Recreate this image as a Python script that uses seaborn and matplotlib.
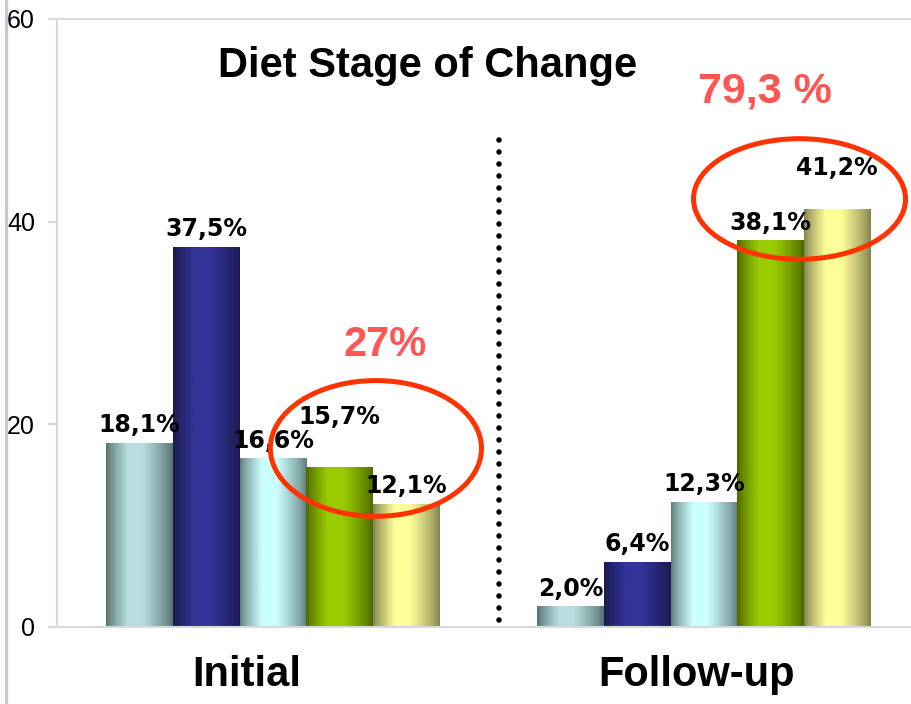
import numpy as np
import pandas as pd
import matplotlib
matplotlib.use("Agg")
import matplotlib.pyplot as plt
import matplotlib.transforms as mtransforms
from matplotlib.patches import Ellipse
from matplotlib.lines import Line2D
from matplotlib.colors import to_rgb
import seaborn as sns

# ---- data -------------------------------------------------------------
groups = ["Initial", "Follow-up"]
stages = ["Precontemplation", "Contemplation", "Preparation", "Action", "Maintenance"]
initial_pct = [18.1, 37.5, 16.6, 15.7, 12.1]
followup_pct = [2.0, 6.4, 12.3, 38.1, 41.2]
highlight_totals = ["27%", "79,3 %"]
y_ticks = [0, 20, 40, 60]

# ---- styling ----------------------------------------------------------
face_colors = ["#b8dfe0", "#333399", "#ccffff", "#99cc00", "#ffff99"]
shade_colors = ["#566e6e", "#1a1a4d", "#5e7a7a", "#4d6600", "#80804d"]
grey = "#d9d9d9"

df = pd.DataFrame({
    "group": np.repeat(groups, len(stages)),
    "stage": stages * len(groups),
    "pct": initial_pct + followup_pct,
})

sns.set_theme(style="white")
plt.rcParams["font.family"] = ["Liberation Sans", "DejaVu Sans"]

fig = plt.figure(figsize=(9.12, 7.04), dpi=100)
ax = fig.add_axes([57 / 912, 77 / 704, 1 - 57 / 912, 608 / 704])

sns.barplot(data=df, x="group", y="pct", hue="stage", order=groups,
            hue_order=stages, palette=face_colors, width=0.773, gap=0,
            saturation=1, legend=False, errorbar=None, linewidth=0, ax=ax)

# cylinder-like horizontal shading on every bar
t = np.linspace(0, 1, 200)
mix = np.interp(t, [0, 0.33, 0.55, 1], [0, 1, 1, 0]) ** 0.8

# extra lift (points) for labels that sit higher above their bar
label_lift = {("Initial", "Action"): 31.7, ("Follow-up", "Maintenance"): 24.5}

for si, cont in enumerate(ax.containers):
    light = np.array(to_rgb(face_colors[si]))
    dark = np.array(to_rgb(shade_colors[si]))
    grad = dark[None, :] * (1 - mix[:, None]) + light[None, :] * mix[:, None]
    for gi, bar in enumerate(cont):
        x0 = bar.get_x()
        w = bar.get_width()
        h = bar.get_height()
        ax.imshow(grad[None, :, :], extent=[x0, x0 + w, 0, h], aspect="auto",
                  interpolation="bilinear", zorder=bar.get_zorder() + 0.1)
        txt = f"{h:.1f}".replace(".", ",") + "%"
        ax.annotate(txt, (x0 + w / 2, h),
                    xytext=(0, label_lift.get((groups[gi], stages[si]), 8)),
                    textcoords="offset points", ha="center", va="baseline",
                    fontsize=17, fontweight="bold", family="DejaVu Sans",
                    color="black", zorder=5)

ax.set_xlim(-0.501, 1.483)
ax.set_ylim(0, 60)
ax.set_yticks(y_ticks)
ax.set_xlabel("")
ax.set_ylabel("")

# highlighted groups of stages
ax.add_patch(Ellipse((0.239, 17.62), 0.490, 13.4, fill=False,
                     edgecolor="#ff3300", lw=3.6, zorder=6))
ax.add_patch(Ellipse((1.222, 42.24), 0.492, 11.9, fill=False,
                     edgecolor="#ff3300", lw=3.6, zorder=6))
ax.text(0.260, 27.8, highlight_totals[0], ha="center", va="center",
        fontsize=30, fontweight="bold", color="#ff5555", zorder=6)
ax.text(1.1415, 52.85, highlight_totals[1], ha="center", va="center",
        fontsize=31, fontweight="bold", color="#ff5555", zorder=6)

# dotted divider between the two time points
ax.plot([0.524, 0.524], [0.7, 48.15], color="black", lw=4.0,
        linestyle=(0, (0.01, 2.15)), dash_capstyle="round", zorder=4)

# axes frame and ticks
for side in ["left", "top", "bottom"]:
    ax.spines[side].set_visible(True)
    ax.spines[side].set_color(grey)
    ax.spines[side].set_linewidth(1.5)
ax.spines["right"].set_visible(False)
ax.tick_params(axis="y", left=True, length=6.5, width=1.5, color=grey,
               labelsize=18, pad=9.4, labelcolor="black")
ax.tick_params(axis="x", bottom=False, length=0, labelsize=30, pad=20,
               labelcolor="black")
for lab, dx in zip(ax.get_xticklabels(), [-26, -7]):
    lab.set_fontweight("bold")
    lab.set_transform(lab.get_transform() +
                      mtransforms.ScaledTranslation(dx / 100, 0, fig.dpi_scale_trans))

fig.text(428 / 912, (704 - 77) / 704, "Diet Stage of Change", ha="center",
         va="baseline", fontsize=30, fontweight="bold", color="black")

# thin window edge on the far left
fig.add_artist(Line2D([6 / 912, 6 / 912], [0, 1], transform=fig.transFigure,
                      color="#c5ccd6", lw=2.2, zorder=0))

fig.savefig("out.png", dpi=100)
